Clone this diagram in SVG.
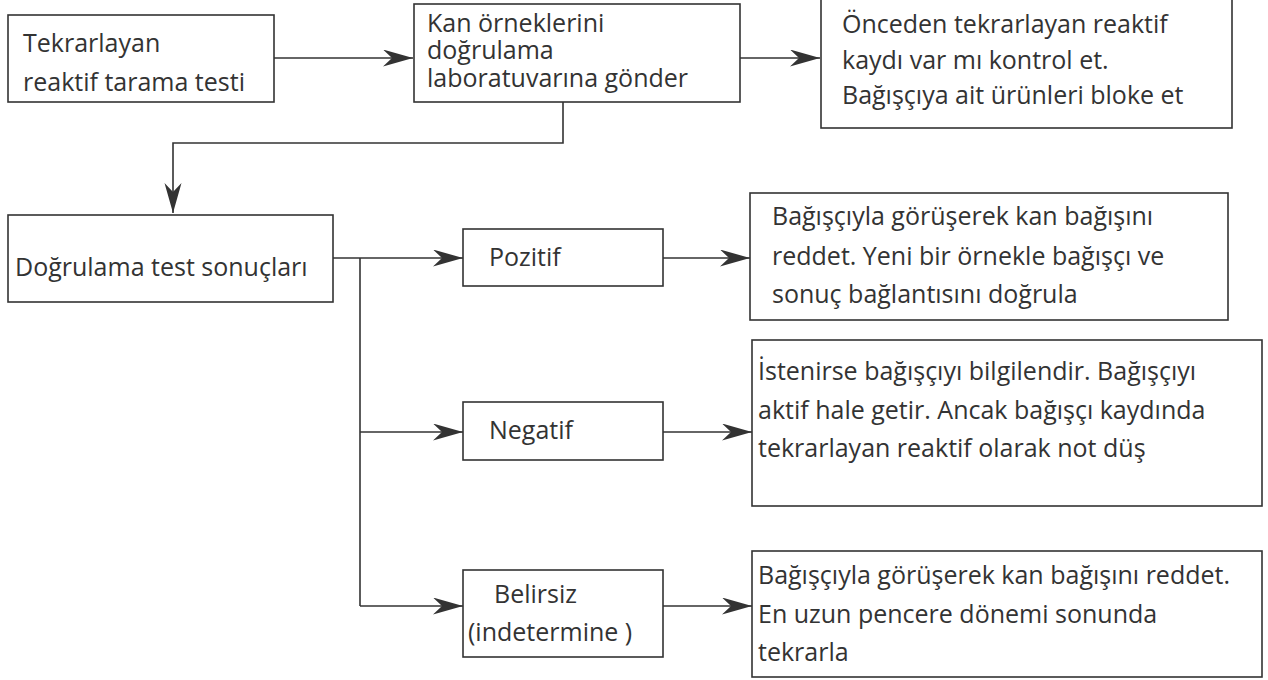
<svg xmlns="http://www.w3.org/2000/svg" width="1268" height="680" viewBox="0 0 1268 680">
<style>
.box{fill:#fff;stroke:#333;stroke-width:1.6}
.t{font-family:"Open Sans","Noto Sans",sans-serif;font-size:25px;fill:#333}
.c{fill:none;stroke:#333;stroke-width:1.6}
</style>
<defs>
<marker id="ah" markerUnits="userSpaceOnUse" markerWidth="32" markerHeight="18" refX="30" refY="8.5" orient="auto">
<path d="M0,0 L30,8.5 L0,17 L9,8.5 Z" fill="#333"/>
</marker>
</defs>
<rect width="1268" height="680" fill="#fff"/>
<g id="connectors">
<path class="c" d="M274,58 H413" marker-end="url(#ah)"/>
<path class="c" d="M740,58 H820" marker-end="url(#ah)"/>
<path class="c" d="M563,102 V143 H173 V213" marker-end="url(#ah)"/>
<path class="c" d="M333,258 H463" marker-end="url(#ah)"/>
<path class="c" d="M360,258 V606"/>
<path class="c" d="M360,432 H463" marker-end="url(#ah)"/>
<path class="c" d="M360,606 H463" marker-end="url(#ah)"/>
<path class="c" d="M663,258 H750" marker-end="url(#ah)"/>
<path class="c" d="M663,432 H752" marker-end="url(#ah)"/>
<path class="c" d="M663,606 H752" marker-end="url(#ah)"/>
</g>
<g id="n1">
<rect class="box" x="8" y="15" width="266" height="87"/>
<text class="t" x="23" y="52">Tekrarlayan</text>
<text class="t" x="23" y="91">reaktif tarama testi</text>
</g>
<g id="n2">
<rect class="box" x="414" y="4" width="326" height="98"/>
<text class="t" x="427" y="32">Kan örneklerini</text>
<text class="t" x="427" y="59">doğrulama</text>
<text class="t" x="427" y="87">laboratuvarına gönder</text>
</g>
<g id="n3">
<rect class="box" x="821" y="-2" width="411" height="130"/>
<text class="t" x="842" y="33">Önceden tekrarlayan reaktif</text>
<text class="t" x="842" y="69">kaydı var mı kontrol et.</text>
<text class="t" x="842" y="104">Bağışçıya ait ürünleri bloke et</text>
</g>
<g id="n4">
<rect class="box" x="8" y="215" width="325" height="87"/>
<text class="t" x="15" y="276">Doğrulama test sonuçları</text>
</g>
<g id="n5">
<rect class="box" x="463" y="229" width="200" height="57"/>
<text class="t" x="489" y="266">Pozitif</text>
</g>
<g id="n6">
<rect class="box" x="750" y="193" width="478" height="127"/>
<text class="t" x="772" y="225">Bağışçıyla görüşerek kan bağışını</text>
<text class="t" x="772" y="265">reddet. Yeni bir örnekle bağışçı ve</text>
<text class="t" x="772" y="303">sonuç bağlantısını doğrula</text>
</g>
<g id="n7">
<rect class="box" x="463" y="402" width="200" height="58"/>
<text class="t" x="489" y="439">Negatif</text>
</g>
<g id="n8">
<rect class="box" x="752" y="340" width="510" height="166"/>
<text class="t" x="758" y="380">İstenirse bağışçıyı bilgilendir. Bağışçıyı</text>
<text class="t" x="758" y="419">aktif hale getir. Ancak bağışçı kaydında</text>
<text class="t" x="758" y="457">tekrarlayan reaktif olarak not düş</text>
</g>
<g id="n9">
<rect class="box" x="463" y="570" width="200" height="87"/>
<text class="t" x="494" y="603">Belirsiz</text>
<text class="t" x="468" y="641">(indetermine )</text>
</g>
<g id="n10">
<rect class="box" x="752" y="551" width="510" height="126"/>
<text class="t" x="758" y="584">Bağışçıyla görüşerek kan bağışını reddet.</text>
<text class="t" x="758" y="623">En uzun pencere dönemi sonunda</text>
<text class="t" x="758" y="661">tekrarla</text>
</g>
</svg>
